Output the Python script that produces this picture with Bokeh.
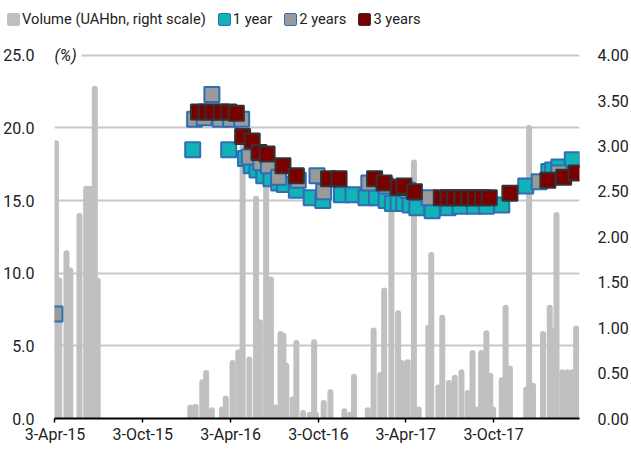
import pandas as pd
from bokeh.plotting import figure
from bokeh.layouts import column
from bokeh.models import (Range1d, LinearAxis, FixedTicker, NumeralTickFormatter,
                          Label, ColumnDataSource, Div)
from bokeh.embed import file_html
from bokeh.resources import INLINE

FONT = "Roboto"

# ---------------- data ----------------
vol_dates = ["2015-04-05", "2015-04-12", "2015-04-27", "2015-05-05", "2015-05-24", "2015-06-07",
             "2015-06-14", "2015-06-25", "2015-07-01",
             "2016-01-10", "2016-01-21", "2016-02-04", "2016-02-12", "2016-02-24", "2016-03-16",
             "2016-03-24", "2016-04-07", "2016-04-19", "2016-04-28", "2016-05-12", "2016-05-26",
             "2016-06-03", "2016-06-16", "2016-06-26", "2016-07-06", "2016-07-16", "2016-07-22",
             "2016-07-28", "2016-08-10", "2016-08-18", "2016-09-01", "2016-09-15", "2016-09-24",
             "2016-09-28", "2016-10-14", "2016-10-28", "2016-11-26", "2016-12-08", "2016-12-16",
             "2017-01-14", "2017-01-26", "2017-02-09", "2017-02-17", "2017-03-04", "2017-03-18",
             "2017-03-26", "2017-04-07", "2017-04-20", "2017-04-30", "2017-05-20", "2017-05-26",
             "2017-06-10", "2017-06-18", "2017-07-02", "2017-07-14", "2017-07-28", "2017-08-10",
             "2017-08-20", "2017-08-28", "2017-09-07", "2017-09-18", "2017-09-26", "2017-10-02",
             "2017-10-20", "2017-10-28", "2017-11-06", "2017-12-10", "2017-12-16", "2017-12-24",
             "2018-01-14", "2018-01-28", "2018-02-03", "2018-02-11", "2018-02-23", "2018-03-06",
             "2018-03-16", "2018-03-24"]
vol_values = [3.03, 1.52, 1.82, 1.63, 2.23, 2.53,
              2.53, 3.63, 1.52,
              0.12, 0.13, 0.40, 0.50, 0.09, 0.10,
              0.22, 0.61, 0.73, 3.00, 0.65, 2.42,
              1.06, 2.70, 1.53, 0.12, 0.93, 0.91,
              0.58, 0.21, 0.83, 0.06, 0.04, 0.84,
              0.04, 0.17, 0.29, 0.08, 0.04, 0.46,
              0.09, 0.97, 0.48, 1.41, 2.40, 1.16,
              0.61, 0.62, 2.82, 0.10, 1.00, 1.80,
              0.34, 1.11, 0.39, 0.45, 0.51, 0.28,
              0.72, 0.10, 0.72, 0.94, 0.47, 0.10,
              0.42, 1.22, 0.55, 0.32, 3.20, 0.36,
              0.93, 1.22, 0.97, 2.24, 0.51, 0.51,
              0.51, 0.99]

y1_dates = ["2016-01-15", "2016-03-30", "2016-05-04", "2016-05-16", "2016-05-28", "2016-06-11",
            "2016-06-26", "2016-07-12", "2016-07-24", "2016-08-18", "2016-09-18", "2016-10-12",
            "2016-11-20", "2016-12-14", "2017-01-10", "2017-02-01", "2017-02-21", "2017-03-06",
            "2017-03-18", "2017-03-30", "2017-04-12", "2017-04-26", "2017-05-28", "2017-06-30",
            "2017-07-25", "2017-08-24", "2017-09-18", "2017-10-20", "2017-12-09", "2018-01-26",
            "2018-02-03", "2018-02-16", "2018-03-16"]
y1_values = [18.5, 18.5, 17.9, 17.4, 17.1, 16.7,
             16.5, 16.2, 16.1, 15.7, 15.2, 15.0,
             15.4, 15.4, 15.2, 15.2, 15.0, 14.8,
             14.8, 14.8, 14.7, 14.5, 14.3, 14.5,
             14.6, 14.6, 14.6, 14.7, 16.0, 17.0,
             17.1, 17.3, 17.8]

y2_dates = ["2015-04-03", "2016-01-19", "2016-02-08", "2016-02-24", "2016-03-12", "2016-04-03",
            "2016-04-26", "2016-05-12", "2016-06-05", "2016-06-21", "2016-07-12", "2016-08-22",
            "2016-09-30", "2016-10-14", "2017-01-16", "2017-02-21", "2017-04-07", "2017-05-22",
            "2018-01-06", "2018-02-16"]
y2_values = [7.2, 20.6, 20.7, 22.3, 20.6, 20.6,
             20.6, 18.0, 17.6, 17.4, 16.6, 16.4,
             16.7, 15.6, 16.2, 16.0, 15.7, 15.2,
             16.3, 16.9]

y3_dates = ["2016-01-27", "2016-02-12", "2016-02-26", "2016-03-14", "2016-03-30", "2016-04-15",
            "2016-04-28", "2016-05-18", "2016-06-01", "2016-06-18", "2016-07-21", "2016-08-18",
            "2016-10-24", "2016-11-15", "2017-01-28", "2017-02-17", "2017-03-18", "2017-03-30",
            "2017-04-21", "2017-06-16", "2017-06-30", "2017-07-14", "2017-07-29", "2017-08-12",
            "2017-08-26", "2017-09-10", "2017-09-24", "2017-11-06", "2018-01-24", "2018-02-26",
            "2018-03-24"]
y3_values = [21.1, 21.1, 21.1, 21.1, 21.1, 21.0,
             19.4, 19.1, 18.3, 18.2, 17.4, 16.7,
             16.5, 16.5, 16.5, 16.2, 15.9, 16.0,
             15.6, 15.2, 15.2, 15.2, 15.2, 15.2,
             15.2, 15.2, 15.2, 15.5, 16.4, 16.6,
             16.9]

x_tick_dates = ["2015-04-03", "2015-10-03", "2016-04-03", "2016-10-03", "2017-04-03", "2017-10-03"]
x_tick_labels = ["3-Apr-15", "3-Oct-15", "3-Apr-16", "3-Oct-16", "3-Apr-17", "3-Oct-17"]
left_ticks = [0, 5, 10, 15, 20, 25]
right_ticks = [0, 0.5, 1.0, 1.5, 2.0, 2.5, 3.0, 3.5, 4.0]

series_names = ["Volume (UAHbn, right scale)", "1 year", "2 years", "3 years"]


def ms(d):
    return pd.Timestamp(d).value / 1e6


# ---------------- styles ----------------
VOL_C = "#c0c0c0"
TEAL = "#12b3b6"
GREY = "#9a9a9a"
DRED = "#7a0000"
BLUE_EDGE = "#2f6db5"
DARK_EDGE = "#333333"
TXT = "#222222"

series_fill = [VOL_C, TEAL, GREY, DRED]
series_edge = [VOL_C, BLUE_EDGE, BLUE_EDGE, DARK_EDGE]

x_start, x_end = ms("2015-04-02"), ms("2018-03-31")
Y_TOP = 25.6                      # a little head-room so the "(%)" tag is not clipped
VOL_TOP = 4.0 * Y_TOP / 25.0      # keeps 4.00 aligned with 25.0

# ---------------- legend strip (HTML) ----------------
LEG_H = 38
items_html = ""
for name, fc, ec in zip(series_names, series_fill, series_edge):
    items_html += (
        f'<span style="display:inline-block;width:13px;height:13px;box-sizing:border-box;'
        f'background:{fc};border:1.5px solid {ec};border-radius:2px;margin-right:2px;"></span>'
        f'<span style="margin-right:12px;">{name}</span>'
    )
leg = Div(text=(f'<div style="display:flex;align-items:center;height:{LEG_H}px;padding-left:7px;'
                f'font-family:{FONT};font-size:14.7px;color:{TXT};white-space:nowrap;'
                f'line-height:1;">{items_html}</div>'),
          width=631, height=LEG_H, margin=0)

# ---------------- main chart ----------------
p = figure(width=631, height=449 - LEG_H, output_backend="svg", toolbar_location=None,
           x_axis_type="datetime",
           x_range=Range1d(x_start, x_end), y_range=Range1d(0, Y_TOP),
           min_border_left=50, min_border_right=45, min_border_top=8, min_border_bottom=31,
           margin=0)
p.extra_y_ranges = {"vol": Range1d(0, VOL_TOP)}
p.outline_line_color = None
p.background_fill_color = "white"
p.border_fill_color = "white"

# volume bars
vsrc = ColumnDataSource(dict(x=pd.to_datetime(vol_dates), top=vol_values,
                             base=[0] * len(vol_values)))
p.segment(x0="x", x1="x", y0="base", y1="top", source=vsrc, y_range_name="vol",
          line_color=VOL_C, line_width=6, line_cap="round")

MS = 15
p.scatter(x=pd.to_datetime(y1_dates), y=y1_values, marker="square", size=MS,
          fill_color=TEAL, line_color=BLUE_EDGE, line_width=2)
p.scatter(x=pd.to_datetime(y2_dates), y=y2_values, marker="square", size=MS,
          fill_color=GREY, line_color=BLUE_EDGE, line_width=2)
p.scatter(x=pd.to_datetime(y3_dates), y=y3_values, marker="square", size=MS,
          fill_color=DRED, line_color=DARK_EDGE, line_width=2)

# x axis
xa = p.xaxis[0]
xa.ticker = FixedTicker(ticks=[ms(d) for d in x_tick_dates])
xa.major_label_overrides = {ms(d): lab for d, lab in zip(x_tick_dates, x_tick_labels)}
xa.axis_line_color = "black"
xa.axis_line_width = 2
xa.major_tick_line_color = "black"
xa.major_tick_line_width = 1.5
xa.major_tick_out = 4
xa.major_tick_in = 0
xa.minor_tick_line_color = None
xa.major_label_standoff = 2
xa.major_label_text_font = FONT
xa.major_label_text_font_size = "16px"
xa.major_label_text_color = TXT

# left axis
ya = p.yaxis[0]
ya.ticker = FixedTicker(ticks=left_ticks)
ya.formatter = NumeralTickFormatter(format="0.0")
ya.axis_line_color = None
ya.major_tick_line_color = None
ya.minor_tick_line_color = None
ya.major_label_standoff = 14
ya.major_label_text_font = FONT
ya.major_label_text_font_size = "16px"
ya.major_label_text_color = TXT

# right axis
ra = LinearAxis(y_range_name="vol", ticker=FixedTicker(ticks=right_ticks),
                formatter=NumeralTickFormatter(format="0.00"))
ra.axis_line_color = None
ra.major_tick_line_color = None
ra.minor_tick_line_color = None
ra.major_label_standoff = 12
ra.major_label_text_font = FONT
ra.major_label_text_font_size = "16px"
ra.major_label_text_color = TXT
p.add_layout(ra, "right")

p.xgrid.visible = False
p.ygrid.ticker = FixedTicker(ticks=left_ticks)
p.ygrid.grid_line_color = "#c8c8c8"
p.ygrid.grid_line_width = 2

pct = Label(x=x_start, y=25, text="(%)", text_font=FONT, text_font_style="italic",
            text_font_size="16px", text_color=TXT, text_baseline="middle", text_align="left",
            x_offset=-5, background_fill_color="white", padding=5)
p.add_layout(pct)

open("out.html", "w").write(file_html(column(leg, p, spacing=0), INLINE))
